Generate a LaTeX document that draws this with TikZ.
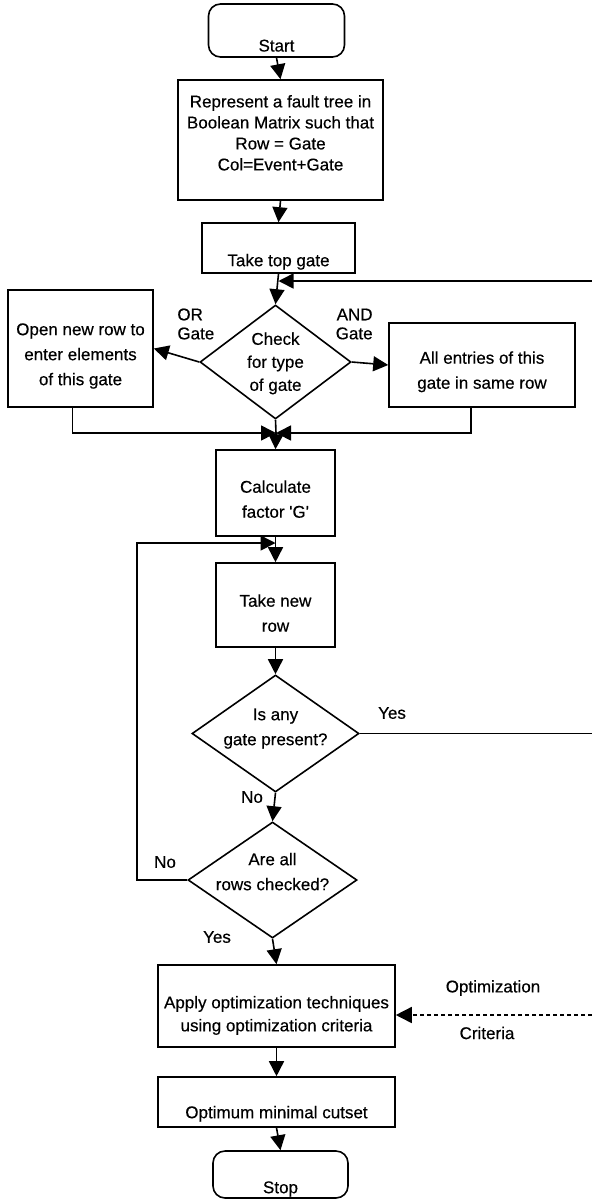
\documentclass[tikz,border=0pt]{standalone}
\usepackage{fontspec}
\setmainfont{Liberation Sans}[FakeBold=0.4]
\usetikzlibrary{shapes.geometric,arrows.meta}
% text block lowered/raised inside a box without changing the box size
\newcommand\lowered[2]{\raisebox{#1}[0pt][0pt]{\begin{tabular}{@{}c@{}}#2\end{tabular}}}

\begin{document}
\begin{tikzpicture}[x=0.5pt,y=-0.5pt,
  every node/.style={font=\fontsize{8.5}{12.5}\selectfont},
  line/.style={line width=0.8pt},
  arr/.style={line, -{Triangle[length=7.5pt,width=7.5pt]}},
  box/.style={draw, line, rectangle, inner sep=0pt},
  term/.style={box, rounded corners=6pt},
  decision/.style={draw, line, diamond, inner sep=0pt, shape aspect=1.4},
  lab/.style={inner sep=0pt}]
\useasboundingbox (0,0) rectangle (592,1200);

% process steps
\node[term, minimum width=68pt, minimum height=26.5pt] (start) at (276.5,30.5) {\lowered{-10pt}{Start}};
\node[box, minimum width=102.5pt, minimum height=60pt, font=\fontsize{8.5}{10.5}\selectfont] (rep) at (280.5,140)
  {\lowered{0.65pt}{Represent a fault tree in\\Boolean Matrix such that\\Row = Gate\\Col=Event+Gate}};
\node[box, minimum width=76.5pt, minimum height=25pt] (top) at (278.5,248) {\lowered{-8.6pt}{Take top gate}};
\node[decision, minimum width=75.5pt, minimum height=57pt, font=\fontsize{8.5}{11.5}\selectfont] (check) at (275.5,362)
  {\lowered{-2.6pt}{Check\\for type\\of gate}};
\node[lab, anchor=west, align=left, font=\fontsize{8.5}{9.5}\selectfont] (orlab) at (177,324) {OR\\Gate};
\node[lab, anchor=east, align=right, font=\fontsize{8.5}{9.5}\selectfont] (andlab) at (373,324) {AND\\Gate};
\node[box, minimum width=72.5pt, minimum height=58.5pt] (orbox) at (80.5,348.5)
  {\lowered{-5.35pt}{Open new row to\\enter elements\\of this gate}};
\node[box, minimum width=93pt, minimum height=42pt] (andbox) at (482,365)
  {\lowered{-5.1pt}{All entries of this\\gate in same row}};
\node[box, minimum width=59.5pt, minimum height=43pt] (calc) at (275.5,493)
  {\lowered{-5.6pt}{Calculate\\factor \textquotesingle G\textquotesingle}};
\node[box, minimum width=59.5pt, minimum height=42pt] (newrow) at (275.5,605)
  {\lowered{-6.6pt}{Take new\\row}};
\node[decision, minimum width=83.5pt, minimum height=58.5pt] (any) at (275.5,733.5)
  {\lowered{0.9pt}{Is any\\gate present?}};
\node[decision, minimum width=84.5pt, minimum height=58pt] (are) at (272.5,880)
  {\lowered{1.65pt}{Are all\\rows checked?}};
\node[box, minimum width=118.5pt, minimum height=41pt, font=\fontsize{8.5}{11.5}\selectfont] (apply) at (276.5,1006)
  {\lowered{-6.6pt}{Apply optimization techniques\\using optimization criteria}};
\node[box, minimum width=118.5pt, minimum height=25pt] (opt) at (276.5,1102)
  {\lowered{-7.6pt}{Optimum minimal cutset}};
\node[term, minimum width=67.5pt, minimum height=23.5pt] (stop) at (280.5,1174.5) {\lowered{-8.85pt}{Stop}};

% branch labels
\node[lab] (yes1) at (392,713) {Yes};
\node[lab] (no1) at (252,797) {No};
\node[lab] (no2) at (165,862) {No};
\node[lab] (yes2) at (217,937) {Yes};
\node[lab] (optlab) at (493,988) {Optimization};
\node[lab] (critlab) at (487,1033) {Criteria};

% free ends and bends
\coordinate (fbR) at (592,281);
\coordinate (yesR) at (592,733.5);
\coordinate (critR) at (592,1015);
\coordinate (join) at (276,433);
\coordinate (loop) at (137,543);

% connectors
\draw[arr] (start.south) -- (rep.north);
\draw[arr] (rep.south) -- (top.north);
\draw[arr] (top.south) -- (check.north);
\draw[arr] (fbR) -- (fbR -| top.south);
\draw[arr] (check.west) -- (orbox.east);
\draw[arr] (check.east) -- (andbox.west);
\draw[line] (check.south) -- (join);
\draw[arr] ([xshift=-4pt]orbox.south) |- (join);
\draw[arr] ([xshift=-5.5pt]andbox.south) |- (join);
\draw[arr] (join) -- (calc.north);
\draw[arr] (calc.south) -- (newrow.north);
\draw[arr] (are.west) -| (loop) -- (loop -| newrow.north);
\draw[arr] (newrow.south) -- (any.north);
\draw[line] (any.east) -- (yesR);
\draw[arr] (any.south) -- (are.north);
\draw[arr] (are.south) -- (apply.north);
\draw[line, dash pattern=on 2pt off 1.5pt, -{Triangle[length=8pt,width=8pt]}] (critR) -- (critR -| apply.east);
\draw[arr] (apply.south) -- (opt.north);
\draw[arr] (opt.south) -- (stop.north);
\end{tikzpicture}
\end{document}
